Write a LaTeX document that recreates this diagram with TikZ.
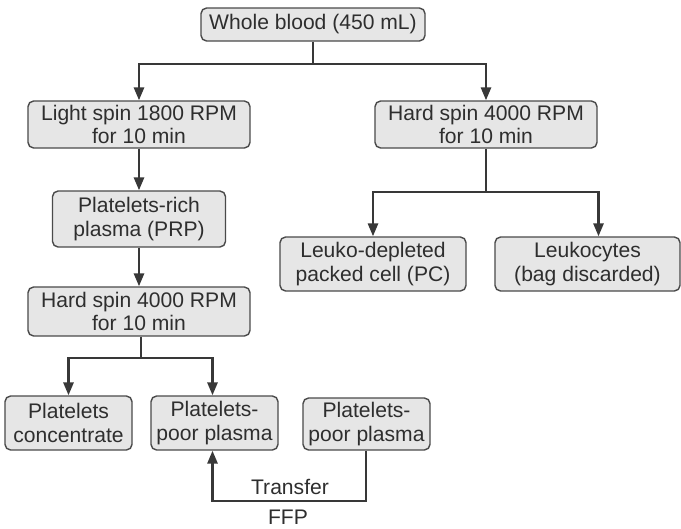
\documentclass[tikz,border=0pt]{standalone}
\usepackage{fontspec}
\setmainfont{Liberation Sans}
\usepackage{xcolor}
\definecolor{CFill}{HTML}{E6E6E6}
\definecolor{CEdge}{HTML}{4A4A4A}
\definecolor{CLine}{HTML}{383838}
\definecolor{CText}{HTML}{2E2E2E}
\usetikzlibrary{arrows.meta}
\tikzstyle{stepNode}=[rectangle, rounded corners=4pt, draw=CEdge, fill=CFill,
  line width=1pt, align=center, text=CText, inner sep=2pt,
  font=\fontsize{15}{16.5}\selectfont]
\tikzstyle{noteNode}=[text=CText, inner sep=1pt, font=\fontsize{15}{16.5}\selectfont]
\tikzstyle{arr}=[-{Triangle[length=3.2mm, width=2.5mm]}, line width=1.7pt, draw=CLine]
\tikzstyle{link}=[line width=1.7pt, draw=CLine]

\begin{document}
\begin{tikzpicture}[x=0.025cm, y=-0.025cm]
\useasboundingbox (0,0) rectangle (681,528);
\node[stepNode, minimum width=5.6cm, minimum height=0.825cm] (whole) at (313,24.5) {Whole blood (450 mL)};
\node[stepNode, minimum width=5.55cm, minimum height=1.175cm] (light) at (139,124.5) {Light spin 1800 RPM\\for 10 min};
\node[stepNode, minimum width=5.55cm, minimum height=1.175cm] (hardR) at (486,124.5) {Hard spin 4000 RPM\\for 10 min};
\node[stepNode, minimum width=4.325cm, minimum height=1.4cm] (prp) at (139,219) {Platelets-rich\\plasma (PRP)};
\node[stepNode, minimum width=5.55cm, minimum height=1.225cm] (hardL) at (139,311.5) {Hard spin 4000 RPM\\for 10 min};
\node[stepNode, minimum width=4.65cm, minimum height=1.35cm] (leuko) at (373,264) {Leuko-depleted\\packed cell (PC)};
\node[stepNode, minimum width=4.625cm, minimum height=1.35cm] (wbc) at (587.5,264) {Leukocytes\\(bag discarded)};
\node[stepNode, minimum width=3.175cm, minimum height=1.35cm] (conc) at (68.5,423) {Platelets\\concentrate};
\node[stepNode, minimum width=3.175cm, minimum height=1.35cm] (ppp) at (214.5,423) {Platelets-\\poor plasma};
\node[stepNode, minimum width=3.175cm, minimum height=1.3cm] (pppB) at (366.5,424) {Platelets-\\poor plasma};
\coordinate (split1) at (313,64);
\coordinate (split2) at (486,192);
\coordinate (split3) at (141,358);
\coordinate (turn) at (366,501);
\node[noteNode] (transfer) at (290,487) {Transfer};
\node[noteNode] (ffp) at (288,517) {FFP};
\draw[link] (whole) -- (split1);
\draw[arr] (split1) -| (light);
\draw[arr] (split1) -| (hardR);
\draw[arr] (light) -- (prp);
\draw[arr] (prp) -- (hardL);
\draw[link] (hardR) -- (split2);
\draw[arr] (split2) -| (leuko);
\draw[arr] (split2) -| ([xshift=0.275cm]wbc.north);
\draw[link] (hardL.south -| split3) -- (split3);
\draw[arr] (split3) -| (conc);
\draw[arr] (split3) -| ([xshift=-0.05cm]ppp.north);
\draw[arr] (pppB.south -| turn) -- (turn) -| ([xshift=-0.05cm]ppp.south);
\end{tikzpicture}
\end{document}
